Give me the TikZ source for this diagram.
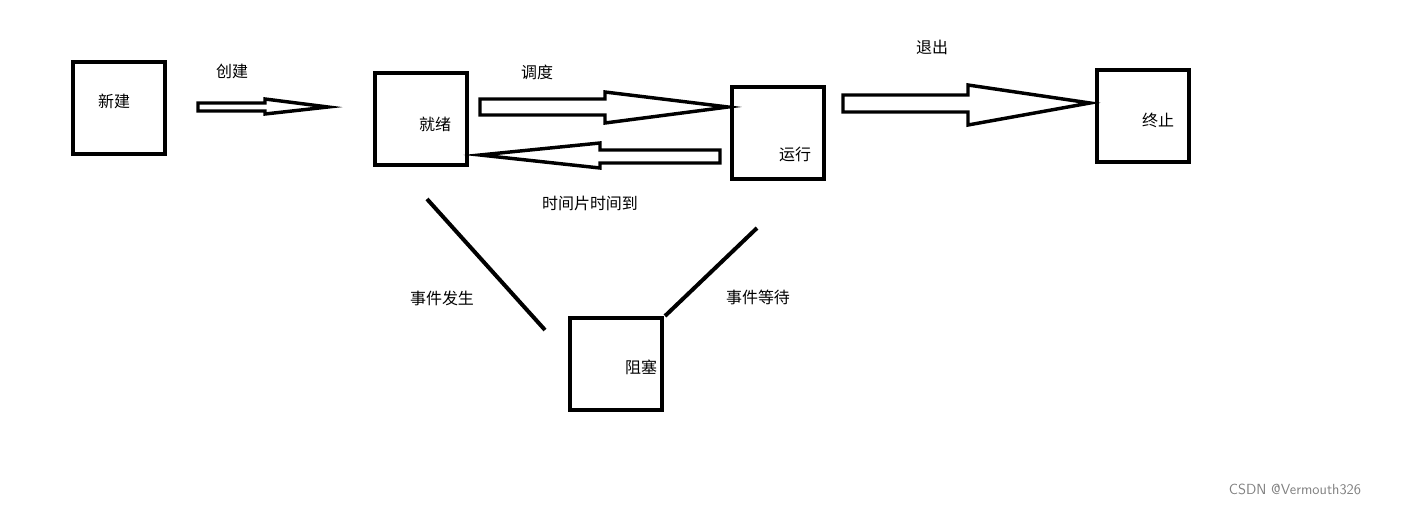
\documentclass[tikz,border=0pt]{standalone}
\usepackage{fontspec}
\newfontfamily\cjk{Noto Sans CJK SC}
\begin{document}
\begin{tikzpicture}[x=0.0264cm,y=-0.0264cm]
\tikzset{ state/.style={draw, line width=3pt, minimum size=2.45cm, inner sep=0pt},
  lbl/.style={font=\cjk\fontsize{12}{14}\selectfont},
  hollow/.style={draw, line width=2.6pt, line join=miter, fill=white} }
\useasboundingbox (0,0) rectangle (1406,505);

% states
\node [state] (new)   at (119,108) {};
\node [state] (ready) at (421,119) {};
\node [state] (run)   at (778,133) {};
\node [state] (end)   at (1143,116) {};
\node [state] (block) at (616,364) {};

\node [lbl] at (114,101)  {新建};
\node [lbl] at (435,124)  {就绪};
\node [lbl] at (795,154)  {运行};
\node [lbl] at (1158,120) {终止};
\node [lbl] at (641,367)  {阻塞};

% hollow arrows
\draw [hollow] (198,103) -- (265,103) -- (265,99) -- (328,107) -- (265,114) -- (265,111) -- (198,111) -- cycle;
\draw [hollow] (480,99) -- (605,99) -- (605,92) -- (728,107) -- (605,123) -- (605,115) -- (480,115) -- cycle;
\draw [hollow] (720,150) -- (600,150) -- (600,143) -- (480,155) -- (600,168) -- (600,163) -- (720,163) -- cycle;
\draw [hollow] (843,95) -- (968,95) -- (968,85) -- (1090,103) -- (968,125) -- (968,112) -- (843,112) -- cycle;

% block transitions
\coordinate (rb) at (427,199);
\coordinate (be) at (545,330);
\coordinate (rt) at (757,228);
\coordinate (bt) at (665,316);
\draw [line width=3pt] (rb) -- (be);
\draw [line width=3pt] (rt) -- (bt);

\node [lbl] at (232,71)  {创建};
\node [lbl] at (537,72)  {调度};
\node [lbl] at (590,203) {时间片时间到};
\node [lbl] at (932,47)  {退出};
\node [lbl] at (442,298) {事件发生};
\node [lbl] at (758,297) {事件等待};
\node [font=\fontsize{11}{13}\selectfont\sffamily, text=gray] at (1295,489) {CSDN @Vermouth326};
\end{tikzpicture}
\end{document}
